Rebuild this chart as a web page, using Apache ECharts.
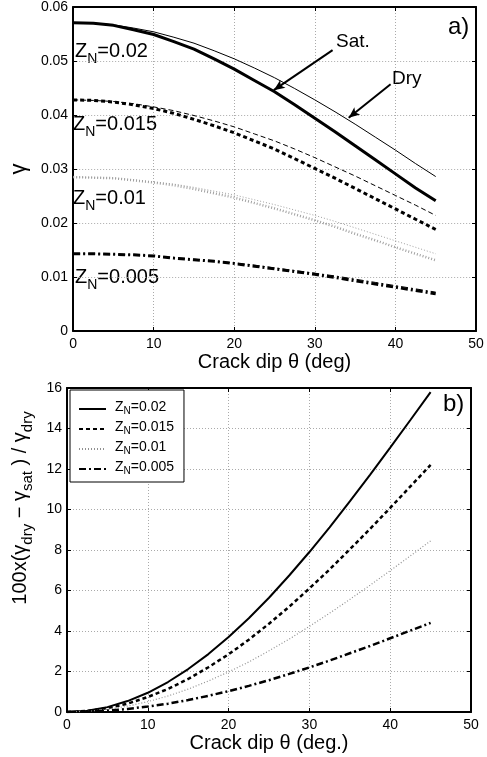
<!DOCTYPE html>
<html>
<head>
<meta charset="utf-8">
<script src="https://cdn.jsdelivr.net/npm/echarts@6/dist/echarts.min.js"></script>
<style>
  html, body { margin: 0; padding: 0; background: #fff; }
  #chart { width: 487px; height: 757px; }
</style>
</head>
<body>
<div id="chart"></div>
<script>
// crack dip angle (deg)
var theta = [0, 2.5, 5, 7.5, 10, 12.5, 15, 17.5, 20, 22.5, 25, 27.5, 30, 32.5, 35, 37.5, 40, 42.5, 45];

// panel a) gamma, dry and saturated
var dry002 = [0.0571, 0.0570, 0.0567, 0.0561, 0.0554, 0.0544, 0.0533, 0.0519, 0.0504, 0.0487, 0.0469, 0.0449, 0.0428, 0.0406, 0.0383, 0.0359, 0.0335, 0.0310, 0.0286];
var sat002 = [0.0571, 0.0570, 0.0566, 0.0558, 0.0549, 0.0536, 0.0522, 0.0504, 0.0485, 0.0464, 0.0443, 0.0419, 0.0394, 0.0369, 0.0343, 0.0317, 0.0291, 0.0265, 0.0241];
var dry0015 = [0.0428, 0.0427, 0.0425, 0.0421, 0.0415, 0.0408, 0.0399, 0.0389, 0.0378, 0.0365, 0.0352, 0.0337, 0.0321, 0.0304, 0.0287, 0.0269, 0.0251, 0.0233, 0.0214];
var sat0015 = [0.0428, 0.0427, 0.0424, 0.0419, 0.0412, 0.0403, 0.0392, 0.0380, 0.0367, 0.0352, 0.0337, 0.0319, 0.0301, 0.0283, 0.0264, 0.0245, 0.0226, 0.0207, 0.0188];
var dry001 = [0.0285, 0.0284, 0.0283, 0.0280, 0.0276, 0.0272, 0.0266, 0.0259, 0.0252, 0.0243, 0.0234, 0.0224, 0.0214, 0.0203, 0.0191, 0.0179, 0.0167, 0.0155, 0.0143];
var sat001 = [0.0285, 0.0284, 0.0283, 0.0279, 0.0275, 0.0270, 0.0263, 0.0255, 0.0247, 0.0237, 0.0227, 0.0216, 0.0205, 0.0193, 0.0180, 0.0168, 0.0155, 0.0143, 0.0131];
var dry0005 = [0.0143, 0.0143, 0.0142, 0.0141, 0.0139, 0.0136, 0.0133, 0.0130, 0.0126, 0.0122, 0.0117, 0.0112, 0.0107, 0.0102, 0.0096, 0.0090, 0.0084, 0.0078, 0.0072];
var sat0005 = [0.0143, 0.0143, 0.0142, 0.0141, 0.0139, 0.0135, 0.0132, 0.0129, 0.0125, 0.0120, 0.0115, 0.0110, 0.0105, 0.0099, 0.0093, 0.0087, 0.0081, 0.0075, 0.0069];

// panel b) 100x(dry - sat)/dry
var diff002 = [0, 0.06, 0.24, 0.54, 0.95, 1.48, 2.12, 2.86, 3.70, 4.63, 5.64, 6.74, 7.90, 9.12, 10.40, 11.71, 13.06, 14.42, 15.80];
var diff0015 = [0, 0.05, 0.19, 0.41, 0.74, 1.14, 1.63, 2.21, 2.85, 3.57, 4.36, 5.20, 6.10, 7.04, 8.03, 9.04, 10.08, 11.14, 12.20];
var diff001 = [0, 0.03, 0.13, 0.29, 0.51, 0.79, 1.13, 1.53, 1.98, 2.47, 3.02, 3.60, 4.23, 4.88, 5.56, 6.26, 6.98, 7.71, 8.45];
var diff0005 = [0, 0.02, 0.07, 0.15, 0.27, 0.41, 0.59, 0.80, 1.03, 1.29, 1.57, 1.88, 2.20, 2.54, 2.90, 3.26, 3.64, 4.02, 4.40];

var legendNames = ['Z_N=0.02', 'Z_N=0.015', 'Z_N=0.01', 'Z_N=0.005'];
var xTickLabels = ['0', '10', '20', '30', '40', '50'];
var yTickLabelsA = ['0', '0.01', '0.02', '0.03', '0.04', '0.05', '0.06'];
var yTickLabelsB = ['0', '2', '4', '6', '8', '10', '12', '14', '16'];

var FONT = 'Liberation Sans, Arial, Helvetica, sans-serif';
var DOT = [1, 2];
var DASH = [4, 3];
var DASHDOT = [7, 3, 2, 3];

function pairs(ys) {
  return theta.map(function (t, i) { return [t, ys[i]]; });
}

function line(name, ys, ai, width, type, color) {
  return {
    name: name, type: 'line', xAxisIndex: ai, yAxisIndex: ai,
    data: pairs(ys), symbol: 'none', silent: true, animation: false,
    itemStyle: { color: color || '#000' },
    lineStyle: { color: color || '#000', width: width, type: type }
  };
}

function xAx(grid, labels) {
  return [{
    gridIndex: grid, type: 'value', min: 0, max: 50, interval: 10,
    axisLine: { onZero: false, lineStyle: { color: '#000', width: 2 } },
    axisTick: { inside: true, length: 4, lineStyle: { color: '#000' } },
    axisLabel: { color: '#000', fontSize: 14, fontFamily: FONT, margin: 6,
      formatter: function (v) { return labels[Math.round(v / 10)]; } },
    splitLine: { show: true, lineStyle: { color: '#aaaaaa', type: [1, 2], width: 1 } }
  }, {
    gridIndex: grid, type: 'value', min: 0, max: 50, interval: 10, position: 'top',
    axisLine: { onZero: false, lineStyle: { color: '#000', width: 2 } },
    axisTick: { inside: true, length: 4, lineStyle: { color: '#000' } },
    axisLabel: { show: false }, splitLine: { show: false }
  }];
}

function yAx(grid, max, step, labels) {
  return [{
    gridIndex: grid, type: 'value', min: 0, max: max, interval: step,
    axisLine: { show: true, onZero: false, lineStyle: { color: '#000', width: 2 } },
    axisTick: { show: true, inside: true, length: 4, lineStyle: { color: '#000' } },
    axisLabel: { color: '#000', fontSize: 14, fontFamily: FONT, margin: 5,
      formatter: function (v) { return labels[Math.round(v / step)]; } },
    splitLine: { show: true, lineStyle: { color: '#aaaaaa', type: [1, 2], width: 1 } }
  }, {
    gridIndex: grid, type: 'value', min: 0, max: max, interval: step, position: 'right',
    axisLine: { show: true, onZero: false, lineStyle: { color: '#000', width: 2 } },
    axisTick: { show: true, inside: true, length: 4, lineStyle: { color: '#000' } },
    axisLabel: { show: false }, splitLine: { show: false }
  }];
}

var xA = xAx(0, xTickLabels), xB = xAx(1, xTickLabels);
xA[0].name = 'Crack dip θ (deg)';
xB[0].name = 'Crack dip θ (deg.)';
[xA[0], xB[0]].forEach(function (a) {
  a.nameLocation = 'middle';
  a.nameGap = 21;
  a.nameTextStyle = { color: '#000', fontSize: 20, fontFamily: FONT, verticalAlign: 'top' };
});
var yA = yAx(0, 0.06, 0.01, yTickLabelsA), yB = yAx(1, 16, 2, yTickLabelsB);
yA[0].name = 'γ';
yA[0].nameLocation = 'middle';
yA[0].nameGap = 27;
yA[0].nameRotate = 90;
yA[0].nameTextStyle = { color: '#000', fontSize: 22, fontFamily: FONT };

// x axes: 0 bottom a, 1 top a, 2 bottom b, 3 top b; y axes: left/right likewise
var xAxes = [xA[0], xA[1], xB[0], xB[1]];
var yAxes = [yA[0], yA[1], yB[0], yB[1]];

var richZ = {
  m: { fontSize: 20, fontFamily: FONT, lineHeight: 22, padding: [0, 0, 8, 0], color: '#000' },
  s: { fontSize: 14, fontFamily: FONT, lineHeight: 14, verticalAlign: 'bottom', color: '#000' }
};
function zText(val, x, y) {
  return { type: 'text', left: x, top: y, silent: true,
    style: { text: '{m|Z}{s|N}{m|=' + val + '}', rich: richZ, fill: '#000' } };
}

var arrowSat = [[{ coord: [32.2, 0.0520] }, { coord: [24.9, 0.0446] }]];
var arrowDry = [[{ coord: [39.4, 0.0457] }, { coord: [34.2, 0.0395] }]];

var satA = line('a_sat_002', sat002, 0, 3, 'solid');
satA.markLine = {
  silent: true, animation: false, symbol: ['none', 'arrow'], symbolSize: [7, 11],
  lineStyle: { color: '#000', width: 2, type: 'solid' },
  itemStyle: { color: '#000' },
  label: { show: false },
  data: arrowSat.concat(arrowDry)
};

var series = [
  satA,
  line('a_dry_002', dry002, 0, 1, 'solid'),
  line('a_sat_0015', sat0015, 0, 3, DASH),
  line('a_dry_0015', dry0015, 0, 1, [5, 3]),
  line('a_sat_001', sat001, 0, 2.5, DOT, '#a0a0a0'),
  line('a_dry_001', dry001, 0, 1, DOT, '#a0a0a0'),
  line('a_dry_0005', dry0005, 0, 1, DASHDOT),
  line('a_sat_0005', sat0005, 0, 3, DASHDOT),
  line(legendNames[0], diff002, 2, 2, 'solid'),
  line(legendNames[1], diff0015, 2, 2.5, DASH),
  line(legendNames[2], diff001, 2, 1.2, DOT, '#909090'),
  line(legendNames[3], diff0005, 2, 2.5, DASHDOT)
];

var chart = echarts.init(document.getElementById('chart'), null, { renderer: 'canvas' });
chart.setOption({
  backgroundColor: '#fff',
  animation: false,
  textStyle: { fontFamily: FONT },
  grid: [
    { left: 71, top: 7, width: 405, height: 324, containLabel: false },
    { left: 67, top: 388, width: 404, height: 324, containLabel: false }
  ],
  xAxis: xAxes,
  yAxis: yAxes,
  legend: {
    data: legendNames, orient: 'vertical', left: 70, top: 390,
    backgroundColor: '#fff', borderColor: '#000', borderWidth: 1,
    padding: [10, 10, 4, 8], itemWidth: 27, itemHeight: 10, itemGap: 2,
    selectedMode: false,
    itemStyle: { opacity: 0 },
    formatter: function (n) {
      var p = n.split('_N');
      return '{m|' + p[0] + '}{s|N}{m|' + p[1] + '}';
    },
    textStyle: {
      color: '#000', fontFamily: FONT, padding: [0, 0, 0, 4],
      rich: {
        m: { fontSize: 14, fontFamily: FONT, lineHeight: 14, padding: [0, 0, 4, 0], color: '#000' },
        s: { fontSize: 10, fontFamily: FONT, lineHeight: 10, verticalAlign: 'bottom', color: '#000' }
      }
    }
  },
  graphic: [
    zText('0.02', 75, 41),
    zText('0.015', 73, 114),
    zText('0.01', 73, 188),
    zText('0.005', 75, 267),
    { type: 'text', left: 336, top: 32, silent: true,
      style: { text: 'Sat.', fontSize: 19, fontFamily: FONT, fill: '#000' } },
    { type: 'text', left: 392, top: 69, silent: true,
      style: { text: 'Dry', fontSize: 19, fontFamily: FONT, fill: '#000' } },
    { type: 'text', left: 448, top: 15, silent: true,
      style: { text: 'a)', fontSize: 24, fontFamily: FONT, fill: '#000' } },
    { type: 'text', left: 443, top: 392, silent: true,
      style: { text: 'b)', fontSize: 24, fontFamily: FONT, fill: '#000' } },
    { type: 'text', x: 24, y: 508, rotation: Math.PI / 2, silent: true,
      style: {
        text: '{m|100x(γ}{s|dry}{m| − γ}{s|sat}{m| ) / γ}{s|dry}',
        align: 'center', verticalAlign: 'middle', fill: '#000',
        rich: {
          m: { fontSize: 20, fontFamily: FONT, lineHeight: 22, padding: [0, 0, 8, 0], color: '#000' },
          s: { fontSize: 15, fontFamily: FONT, lineHeight: 15, verticalAlign: 'bottom', color: '#000' }
        }
      } }
  ],
  series: series
});
</script>
</body>
</html>
